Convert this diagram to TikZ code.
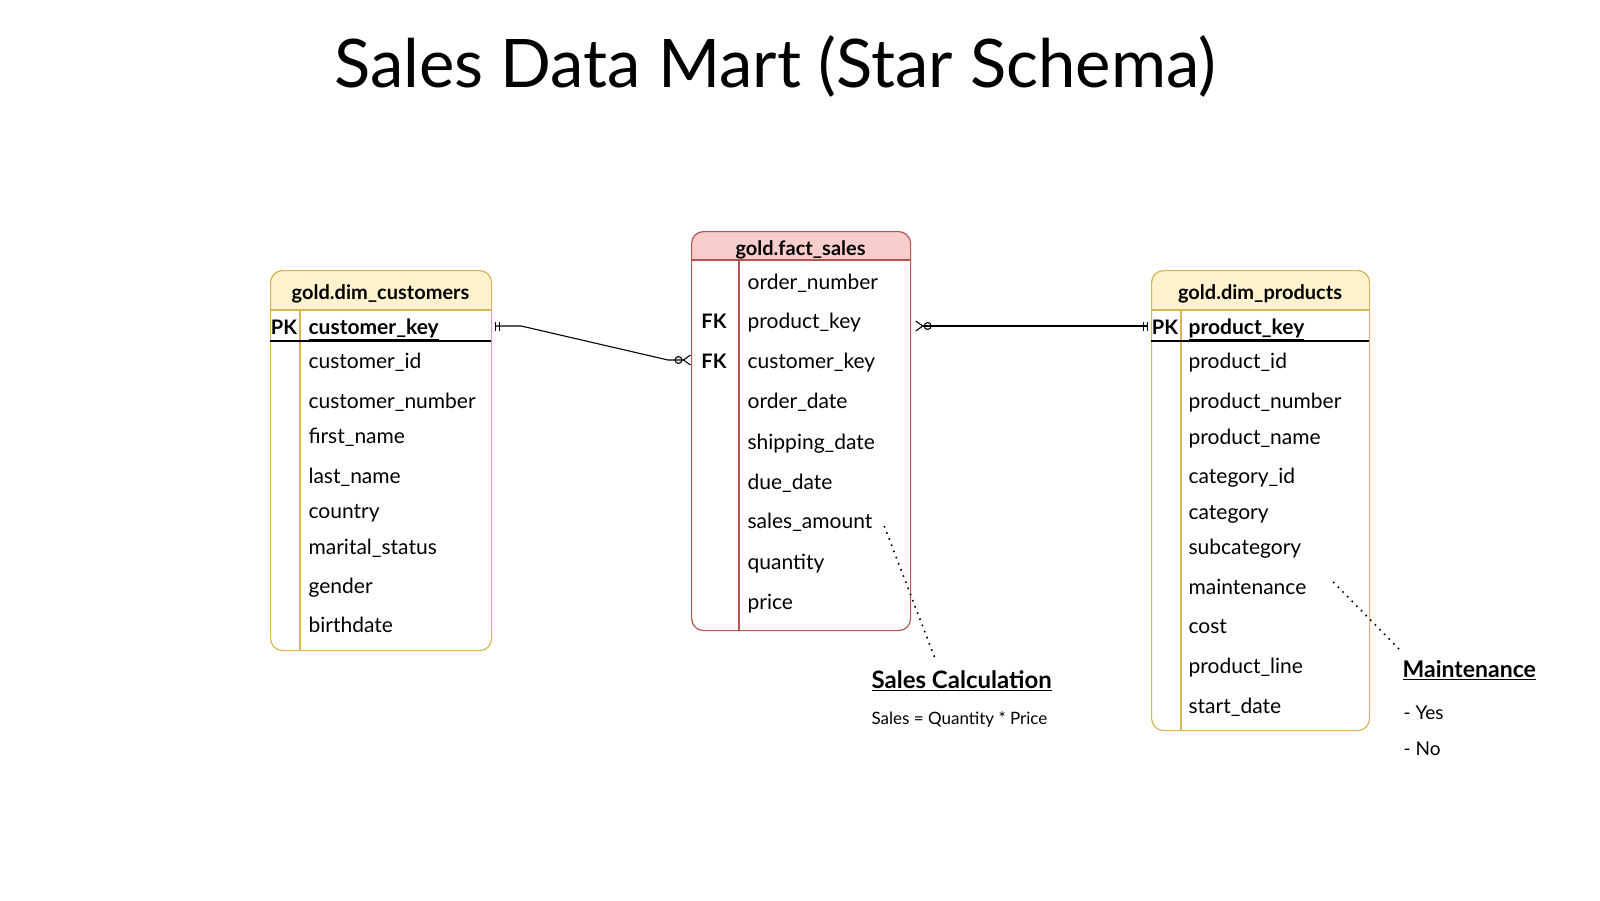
\documentclass[tikz,border=0pt]{standalone}
\usepackage{fontspec}
\setmainfont{Lato}
\usetikzlibrary{arrows.meta,calc}
\definecolor{dimline}{HTML}{D6B656}
\definecolor{dimfill}{HTML}{FFF2CC}
\definecolor{factline}{HTML}{B85450}
\definecolor{factfill}{HTML}{F8CECC}
\begin{document}
\begin{tikzpicture}[x=1pt,y=-1pt,inner sep=0pt,line width=1.2pt,
  row/.style={anchor=west,font=\fontsize{21}{21}\selectfont,text height=17pt,text depth=1pt},
  keyrow/.style={row,font=\fontsize{21}{21}\selectfont\bfseries},
  tag/.style={font=\fontsize{20}{20}\selectfont\bfseries,text height=17pt,text depth=1pt},
  head/.style={font=\fontsize{20}{20}\selectfont\bfseries,text height=17pt,text depth=1pt},
  tbl/.style={draw,rounded corners=12pt,anchor=north west},
  rel/.style={line width=1.1pt,{Bar[width=9pt,sep=3pt]Bar[width=9pt,sep=3pt]}-{Circle[open,length=8pt,width=8pt]Straight Barb[reversed,length=7pt,width=10pt]}},
  note/.style={line width=1.6pt,dash pattern=on 1.6pt off 5pt}]
\useasboundingbox (0,0) rectangle (1600,900);
\node[font=\fontsize{67}{67}\selectfont] (title) at (775,66) {Sales Data Mart (Star Schema)};

\begin{scope}
\clip[rounded corners=12pt] (270,270) rectangle (491,650);
\fill[dimfill] (270,270) rectangle (491,310);
\end{scope}
\node[tbl,draw=dimline,minimum width=221,minimum height=380] (cust) at (270,270) {};
\draw[dimline] (270,310) -- (491,310) (300,310) -- (300,650);
\draw (270,341) -- (491,341);
\node[head] (custh) at (380.5,291) {gold.dim\_customers};
\node[tag] (cpk) at (284,326) {PK};
\node[keyrow] (ckey) at (308,326) {\underline{customer\_key}};
\node[row] (cid) at (308,360) {customer\_id};
\node[row] (cnum) at (308,400) {customer\_number};
\node[row] (cfirst) at (308,435) {first\_name};
\node[row] (clast) at (308,475) {last\_name};
\node[row] (ccountry) at (308,510) {country};
\node[row] (cmarital) at (308,546) {marital\_status};
\node[row] (cgender) at (308,585) {gender};
\node[row] (cbirth) at (308,624) {birthdate};

\begin{scope}
\clip[rounded corners=12pt] (691,231) rectangle (910,630);
\fill[factfill] (691,231) rectangle (910,260);
\end{scope}
\node[tbl,draw=factline,minimum width=219,minimum height=399] (fact) at (691,231) {};
\draw[factline] (691,260) -- (910,260) (739,260) -- (739,630);
\node[head] (facth) at (800.5,247) {gold.fact\_sales};
\node[row] (fnum) at (747,281) {order\_number};
\node[tag] (fpkfk) at (714,320) {FK};
\node[row] (fpk) at (747,320) {product\_key};
\node[tag] (fckfk) at (714,360) {FK};
\node[row] (fck) at (747,360) {customer\_key};
\node[row] (fodate) at (747,400) {order\_date};
\node[row] (fsdate) at (747,441) {shipping\_date};
\node[row] (fddate) at (747,481) {due\_date};
\node[row] (famt) at (747,520) {sales\_amount};
\node[row] (fqty) at (747,561) {quantity};
\node[row] (fprice) at (747,601) {price};

\begin{scope}
\clip[rounded corners=12pt] (1151,270) rectangle (1369,730);
\fill[dimfill] (1151,270) rectangle (1369,310);
\end{scope}
\node[tbl,draw=dimline,minimum width=218,minimum height=460] (prod) at (1151,270) {};
\draw[dimline] (1151,310) -- (1369,310) (1181,310) -- (1181,730);
\draw (1151,341) -- (1369,341);
\node[head] (prodh) at (1260,291) {gold.dim\_products};
\node[tag] (ppk) at (1165,326) {PK};
\node[keyrow] (pkey) at (1188,326) {\underline{product\_key}};
\node[row] (pid) at (1188,360) {product\_id};
\node[row] (pnum) at (1188,400) {product\_number};
\node[row] (pname) at (1188,436) {product\_name};
\node[row] (pcatid) at (1188,475) {category\_id};
\node[row] (pcat) at (1188,511) {category};
\node[row] (psub) at (1188,546) {subcategory};
\node[row] (pmaint) at (1188,586) {maintenance};
\node[row] (pcost) at (1188,625) {cost};
\node[row] (pline) at (1188,665) {product\_line};
\node[row] (pstart) at (1188,705) {start\_date};

\draw[rel] (cust.east |- ckey) -- ++(29,0) -- ($(fact.west |- fck)+(-23,0)$) -- (fact.west |- fck);
\draw[rel] (prod.west |- pkey) -- ($(fact.east |- pkey)+(4,0)$);

\node[anchor=west,font=\fontsize{24}{24}\selectfont\bfseries] (scalc) at (871,681) {\underline{Sales Calculation}};
\node[anchor=west,font=\fontsize{17}{17}\selectfont] (sform) at (871,720) {Sales = Quantity * Price};
\node[anchor=west,font=\fontsize{23}{23}\selectfont\bfseries] (maint) at (1402,670) {\underline{Maintenance}};
\node[anchor=west,font=\fontsize{19}{19}\selectfont] (myes) at (1403,713) {- Yes};
\node[anchor=west,font=\fontsize{19}{19}\selectfont] (mno) at (1403,749) {- No};
\draw[note] ($(fact.east |- famt)+(-27,6)$) -- ($(scalc.west)+(65,-20)$);
\draw[note] ($(prod.east |- pmaint)+(-37,-4)$) -- ($(maint.west)+(-2,-20)$);
\end{tikzpicture}
\end{document}
